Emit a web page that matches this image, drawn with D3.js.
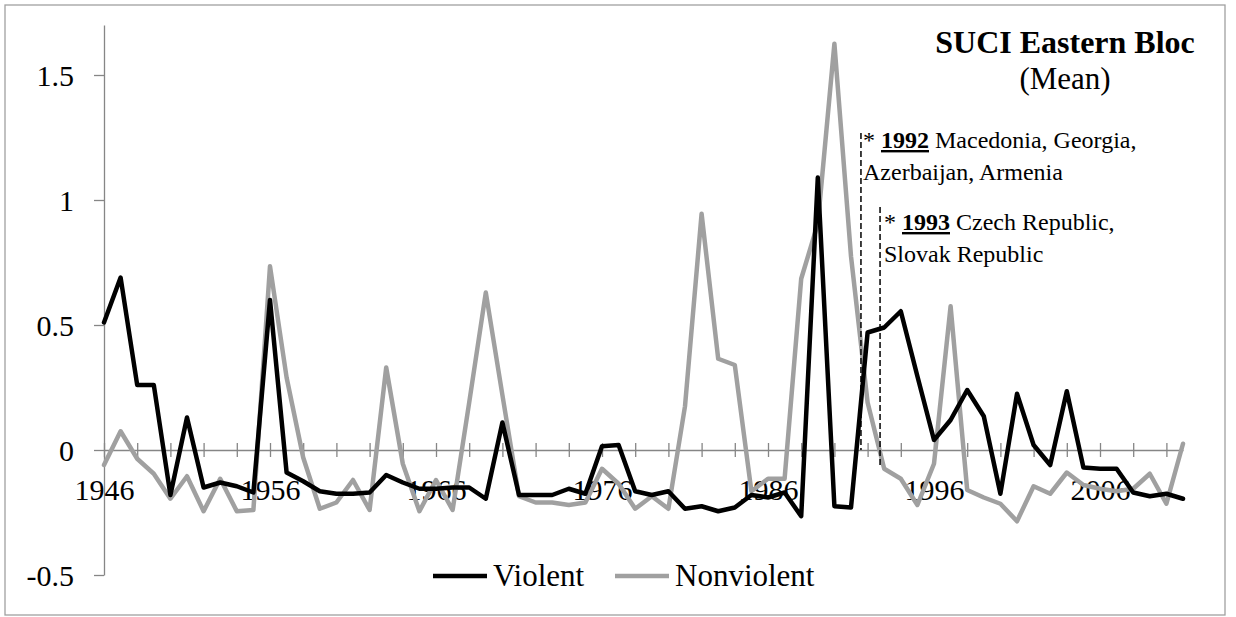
<!DOCTYPE html>
<html><head><meta charset="utf-8">
<script src="https://cdn.jsdelivr.net/npm/d3@7"></script>
<style>
html,body{margin:0;padding:0;background:#fff;}
svg{display:block;font-family:"Liberation Serif","Times New Roman",serif;}
</style></head>
<body><svg id="chart" width="1236" height="617"></svg>
<script>
const years = [1946,1947,1948,1949,1950,1951,1952,1953,1954,1955,1956,1957,1958,1959,1960,1961,1962,1963,1964,1965,
  1966,1967,1968,1969,1970,1971,1972,1973,1974,1975,1976,1977,1978,1979,1980,1981,1982,1983,1984,1985,
  1986,1987,1988,1989,1990,1991,1992,1993,1994,1995,1996,1997,1998,1999,2000,2001,2002,2003,2004,2005,
  2006,2007,2008,2009,2010,2011];
const violent = [0.51,0.69,0.26,0.26,-0.18,0.13,-0.15,-0.13,-0.145,-0.17,
  0.60,-0.09,-0.125,-0.165,-0.175,-0.175,-0.17,-0.10,-0.13,-0.155,
  -0.155,-0.15,-0.15,-0.195,0.11,-0.18,-0.18,-0.18,-0.155,-0.175,
  0.015,0.02,-0.165,-0.18,-0.165,-0.235,-0.225,-0.245,-0.23,-0.18,
  -0.19,-0.17,-0.265,1.09,-0.225,-0.23,0.47,0.49,0.555,0.295,
  0.04,0.12,0.24,0.135,-0.175,0.225,0.02,-0.06,0.235,-0.07,
  -0.075,-0.075,-0.17,-0.185,-0.175,-0.195];
const nonviolent = [-0.06,0.075,-0.035,-0.095,-0.195,-0.105,-0.245,-0.115,-0.245,-0.24,
  0.735,0.29,-0.03,-0.235,-0.21,-0.12,-0.24,0.33,-0.055,-0.245,
  -0.12,-0.24,0.19,0.63,0.22,-0.185,-0.21,-0.21,-0.22,-0.21,
  -0.075,-0.135,-0.235,-0.185,-0.235,0.175,0.945,0.365,0.34,-0.165,
  -0.115,-0.115,0.685,0.905,1.625,0.775,0.19,-0.075,-0.115,-0.22,
  -0.055,0.575,-0.16,-0.19,-0.215,-0.285,-0.145,-0.175,-0.09,-0.14,
  -0.155,-0.165,-0.155,-0.095,-0.215,0.025];
const yTicks = [-0.5,0,0.5,1,1.5];
const xTickYears = [1946,1948,1950,1952,1954,1956,1958,1960,1962,1964,1966,1968,1970,1972,1974,1976,1978,1980,
  1982,1984,1986,1988,1990,1992,1994,1996,1998,2000,2002,2004,2006,2008,2010];
const xLabelYears = [1946,1956,1966,1976,1986,1996,2006];
const seriesNames = ["Violent","Nonviolent"];
const seriesColors = ["#000000","#a0a0a0"];
const titleLines = ["SUCI Eastern Bloc","(Mean)"];
const noteYears = ["1992","1993"];
const noteLines = [["Macedonia, Georgia,","Azerbaijan, Armenia"],["Czech Republic,","Slovak Republic"]];
const noteMarkYears = [1991.6,1992.75];

const svg = d3.select("#chart");
svg.append("rect").attr("x",5).attr("y",5).attr("width",1220).attr("height",610)
  .attr("fill","#fff").attr("stroke","#a0a0a0").attr("stroke-width",1.3);

const x = d3.scaleLinear().domain([1946,2011]).range([104,1183]);
const y = d3.scaleLinear().domain([-0.5,1.7]).range([575,25]);
const axisColor = "#868686";

// Y axis
const gy = svg.append("g").attr("transform","translate(104,0)")
  .call(d3.axisLeft(y).tickValues(yTicks).tickSizeInner(10).tickSizeOuter(0).tickPadding(20).tickFormat(d=>String(d)));
gy.select(".domain").attr("stroke",axisColor).attr("stroke-width",1.3);
gy.selectAll(".tick line").attr("stroke",axisColor).attr("stroke-width",1.3);
gy.selectAll(".tick text").attr("font-size",30).attr("font-family","Liberation Serif, Times New Roman, serif").attr("fill","#000").attr("dy","0.34em");

// X axis
const gx = svg.append("g").attr("transform",`translate(0,${y(0)})`)
  .call(d3.axisBottom(x).tickValues(xTickYears).tickSizeInner(7).tickSizeOuter(0)
    .tickFormat(d => xLabelYears.includes(d) ? String(d) : ""));
gx.select(".domain").attr("stroke",axisColor).attr("stroke-width",1.3);
gx.selectAll(".tick line").attr("y1",-7).attr("y2",7).attr("stroke",axisColor).attr("stroke-width",1.3);
gx.selectAll(".tick text").attr("font-size",30).attr("font-family","Liberation Serif, Times New Roman, serif")
  .attr("fill","#000").attr("y",50).attr("dy",0);

// Lines
const line = d3.line().x((d,i)=>x(years[i])).y(d=>y(d));
[nonviolent, violent].forEach((s,k)=>{
  const c = k===0 ? seriesColors[1] : seriesColors[0];
  svg.append("path").datum(s).attr("d",line).attr("fill","none").attr("stroke",c)
    .attr("stroke-width",4.5).attr("stroke-linejoin","round").attr("stroke-linecap","round");
});

// Annotation dashed lines
const dashTops = [133,207];
const dashBottoms = [y(0), 467];
noteMarkYears.forEach((yr,i)=>{
  svg.append("line").attr("x1",x(yr)).attr("x2",x(yr)).attr("y1",dashTops[i]).attr("y2",dashBottoms[i])
    .attr("stroke","#000").attr("stroke-width",1.5).attr("stroke-dasharray","6,3");
});

// Annotation text
const noteX = [863,884];
const noteY = [148,230];
noteYears.forEach((yr,i)=>{
  const t = svg.append("text").attr("x",noteX[i]).attr("y",noteY[i]).attr("font-size",24).attr("fill","#000");
  t.append("tspan").text("* ");
  t.append("tspan").attr("font-weight","bold").attr("text-decoration","underline").text(yr);
  t.append("tspan").text(" " + noteLines[i][0]);
  svg.append("text").attr("x",noteX[i]).attr("y",noteY[i]+32).attr("font-size",24).attr("fill","#000").text(noteLines[i][1]);
});

// Title
svg.append("text").attr("x",1065).attr("y",53).attr("text-anchor","middle").attr("font-size",32)
  .attr("font-weight","bold").text(titleLines[0]);
svg.append("text").attr("x",1065).attr("y",89).attr("text-anchor","middle").attr("font-size",31).text(titleLines[1]);

// Legend
const legX = [433,615];
seriesNames.forEach((n,i)=>{
  svg.append("line").attr("x1",legX[i]).attr("x2",legX[i]+54).attr("y1",576).attr("y2",576)
    .attr("stroke",seriesColors[i]).attr("stroke-width",4.5);
  svg.append("text").attr("x",legX[i]+60).attr("y",586).attr("font-size",31).attr("fill","#000").text(n);
});
</script>
</body></html>
